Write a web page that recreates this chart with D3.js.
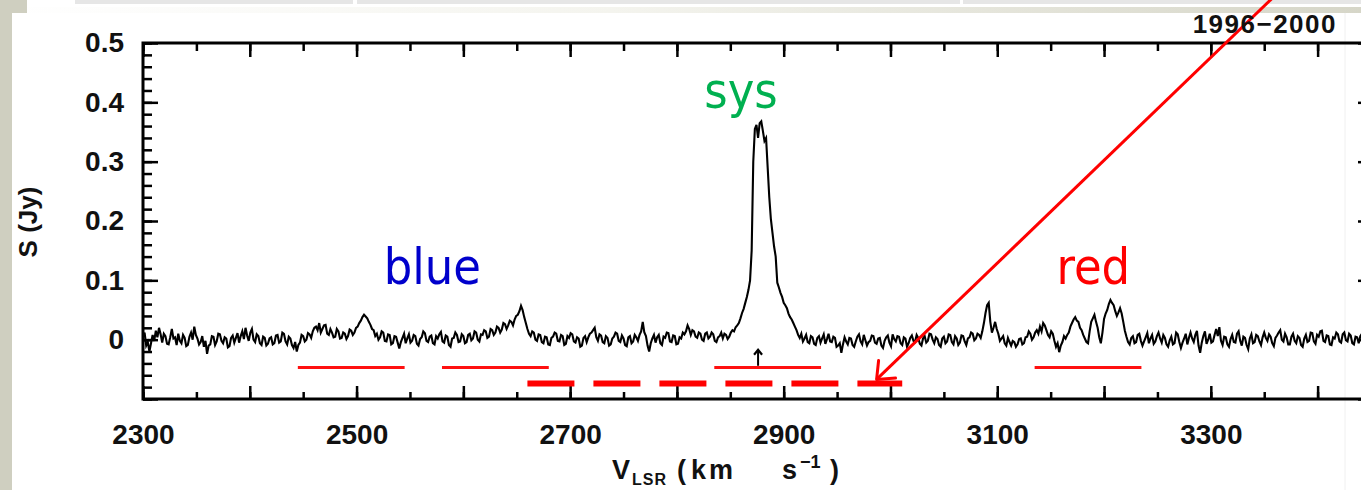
<!DOCTYPE html>
<html>
<head>
<meta charset="utf-8">
<script src="https://cdn.jsdelivr.net/npm/d3@7"></script>
<style>
body { margin: 0; background: #fff; overflow: hidden; }
svg text { font-family: "Liberation Sans", Arial, sans-serif; }
.pp { font-family: Tahoma, "DejaVu Sans Condensed", "DejaVu Sans", sans-serif; font-stretch: condensed; }
</style>
</head>
<body>
<div id="chart"></div>
<script>
// spectrum channels: first channel 2300 km/s, 1.5 km/s per channel, flux in mJy
const v0 = 2300, dv = 1.5;
const flux = [
  5, 12, -10, -4, -20, -6, 8, -2, 15, 4, 20, 9, -5, 10, 6, -7, -8, 4, 18, 2, 4, -9, 10, -2, -6, 8, 3, -11, -9, 5, 12, 0, 22, 8, 2, -8, -4, 6, -12, -2,
  -24, -10, -8, 6, 5, -9, -3, 10, 9, -2, -6, 4, 2, -13, -11, 3, 7, -5, 3, 11, -5, 6, 14, 1, 20, 7, -2, 12, 18, 0, -4, 9, 6, -6, -9, 5, 3, -10, -7, 2,
  4, -8, -6, 7, 8, -5, -3, 12, 10, -3, -8, 5, 2, -9, -14, -4, -20, -9, -5, 8, 6, -3, 0, 11, 9, 3, 14, 20, 22, 16, 28, 12, 18, 24, 25, 10, 8, 18, 12, 4,
  5, 18, 14, 2, 3, 12, 10, 1, 6, 17, 15, 8, 12, 20, 22, 28, 32, 38, 42, 39, 36, 30, 25, 18, 16, 6, 10, 0, 4, 14, 12, -2, -3, 9, 8, -8, -6, 6, 5, -5,
  -15, -4, 3, 10, -6, 2, 9, -5, -2, 8, 6, -7, -10, 1, 4, 14, 11, -2, -4, 5, 7, -6, -8, 6, 2, 9, 13, -3, -5, 7, 5, -9, -12, 2, 3, 12, 8, -4, -3, 9,
  6, -6, -4, 8, 10, -1, 2, 14, 12, 0, -3, 9, 8, 16, 14, 3, 5, 18, 16, 8, 12, 22, 20, 12, 17, 28, 26, 18, 24, 32, 30, 24, 34, 40, 42, 48, 57, 50, 38, 28,
  18, 10, 6, 14, 12, 0, -2, 9, 8, -4, -6, 5, 4, -8, -9, 3, 5, 12, 10, -2, -3, 8, 6, -9, -7, 6, 3, 11, 9, -3, -5, 4, 2, -12, -10, 3, 6, -4, 4, 10,
  12, 16, 20, 4, -2, 9, 7, -4, -6, 6, 3, -10, -8, 2, 5, 12, 10, -2, -4, 7, 2, -9, -11, 4, 6, -6, -3, 8, 4, -2, 8, 14, 30, 12, 6, -10, -20, -6, 2, 8,
  -5, 4, 8, -6, -9, 5, 3, 12, 11, -3, -4, 7, 6, -8, -7, 4, 2, 12, 9, 14, 24, 18, 8, 16, 14, 5, 3, 12, 10, 0, -2, 10, 12, 2, 5, 12, 9, -2, -4, 4,
  6, 12, 2, 10, 8, 1, 5, 12, 16, 14, 21, 24, 28, 36, 45, 52, 62, 72, 84, 100, 150, 300, 355, 362, 340, 365, 368, 352, 335, 340, 290, 240, 203, 180, 157, 140, 96, 88, 79, 72,
  62, 58, 53, 44, 38, 34, 28, 22, 16, 8, 3, 10, -3, 2, 8, -4, -6, 6, 4, -7, -9, 3, 6, -5, 2, 9, -7, 1, 10, -3, -4, 5, 3, -12, -10, -6, -22, -8, 4, -3,
  -8, 3, 2, -9, -12, -3, 5, 9, -3, -8, 8, -1, -10, -4, -2, 7, 6, -5, -7, 2, 3, -10, -14, -2, 4, 7, -5, -11, 9, 1, -3, 6, 5, -6, -9, 4, 2, -12, -6, 3,
  7, -2, -4, 8, 3, -7, -10, 2, 6, -5, -2, 10, 9, 0, -6, 4, 1, -9, -12, 2, 5, -6, -3, 9, 8, -4, -8, 6, 2, -9, -5, 7, 6, -3, -9, 2, 4, 12, 10, -1,
  2, 10, 8, 3, 14, 28, 45, 58, 62, 30, 12, 20, 30, 18, 10, -2, 2, 6, -6, -10, 3, -4, -10, -2, -4, -12, -8, 1, 2, -8, -6, 4, 5, 14, 10, 0, 4, 12, 16, 10,
  22, 14, 28, 24, 16, 8, 4, 14, 10, -2, -12, -6, -21, -10, -4, 6, 2, 8, 12, 22, 28, 34, 38, 32, 30, 20, 16, 8, 2, -4, -6, 14, 30, 36, 42, 30, 20, 4, -6, 12,
  35, 44, 50, 60, 67, 62, 58, 48, 40, 46, 53, 44, 30, 15, 5, -4, -8, 3, 6, -6, -4, 8, 10, -2, -10, -3, 4, 11, -6, 2, 8, -7, -3, 6, 12, 2, -5, 8, 3, -8,
  -12, -1, 5, -8, -6, 12, 9, -4, -14, -5, 2, 10, -8, 3, 12, 2, -4, 8, 15, -10, -22, -5, 6, 14, -7, 0, 10, -5, -3, 8, 18, 6, 21, -2, -9, 5, 4, -8, -12, 1,
  8, -4, -5, 10, 14, -2, -10, 5, 3, -9, -16, 2, 9, -6, -4, 8, 6, -3, -9, 4, 12, 3, -2, 9, 5, -6, -11, 3, 7, 12, 16, 0, -3, 10, 4, -8, -8, 5, 10, -2,
  -6, 6, 3, -9, -12, 2, 8, -4, -2, 12, 11, -3, -7, 8, 5, 14, 15, -2, -4, 7, 6, -8, -9, 4, 2, 12, 9, -3, -5, 9, 12, -1, -3, 10, 7, -6, -8, 5, 4, -6,
  6, 10, -4, 3, 8
];

const xLabels = [2300, 2500, 2700, 2900, 3100, 3300];
const yLabels = [0, 0.1, 0.2, 0.3, 0.4, 0.5];

// velocity ranges (km/s) marked with red bars under the spectrum
const ranges = [[2445, 2545], [2580, 2680], [2835, 2935], [3135, 3235]];
const rangeLevel = -0.047;
const dashSpan = [2660, 3011];
const dashLevel = -0.074;
// red arrow, tail -> tip, in (km/s, Jy)
const arrowTail = [3374, 0.604], arrowTip = [2987, -0.067];
// systemic velocity marker
const sysV = 2876, sysFrom = -0.044, sysTo = -0.017;

const notes = [
  {text: "blue", v: 2571, s: 0.094, color: "#0000cc"},
  {text: "sys",  v: 2860, s: 0.391, color: "#00b050"},
  {text: "red",  v: 3190, s: 0.094, color: "#ff0000"}
];

const W = 1361, H = 490;
const svg = d3.select("#chart").append("svg")
    .attr("width", W).attr("height", H);

// slide background bits
const defs = svg.append("defs");
const grad = defs.append("linearGradient").attr("id", "band");
grad.append("stop").attr("offset", "0%").attr("stop-color", "#ffffff");
grad.append("stop").attr("offset", "45%").attr("stop-color", "#f4f4ee");
grad.append("stop").attr("offset", "100%").attr("stop-color", "#d6d6c8");
svg.append("rect").attr("x", 0).attr("y", 7).attr("width", W).attr("height", 6).attr("fill", "url(#band)");
svg.append("rect").attr("x", 75).attr("y", 0).attr("width", 278).attr("height", 4).attr("fill", "#e6e6e6");
svg.append("rect").attr("x", 357).attr("y", 0).attr("width", 603).attr("height", 4).attr("fill", "#e6e6e6");
svg.append("rect").attr("x", 963).attr("y", 0).attr("width", 398).attr("height", 4).attr("fill", "#e6e6e6");
svg.append("rect").attr("x", 0).attr("y", 0).attr("width", 27).attr("height", 13).attr("fill", "#cfcfc0");
svg.append("rect").attr("x", 0).attr("y", 0).attr("width", 12).attr("height", H).attr("fill", "#cfcfc0");
svg.append("line").attr("x1", 1345).attr("x2", 1345).attr("y1", 13).attr("y2", H)
    .attr("stroke", "#f0f0f0").attr("stroke-width", 1);

const x = d3.scaleLinear().domain([2300, 3450]).range([143, 1371]);
const y = d3.scaleLinear().domain([-0.1, 0.5]).range([399, 43]);

function styleAxis(g) {
  g.select(".domain").remove();
  g.selectAll(".tick line").attr("stroke", "#000").attr("stroke-width", 2.5);
  g.selectAll(".tick text").attr("font-size", 28).attr("font-weight", "bold").attr("fill", "#111");
}

const xMinor = d3.range(2300, 3451, 50);
const xMajor = d3.range(2300, 3451, 100);
const yMinor = d3.range(-0.1, 0.501, 0.02);
const yMajor = d3.range(-0.1, 0.501, 0.1);

// bottom
svg.append("g").attr("transform", `translate(0,${y(-0.1)})`)
  .call(d3.axisBottom(x).tickValues(xMinor).tickSize(-7).tickSizeOuter(0).tickFormat(""))
  .call(styleAxis);
svg.append("g").attr("transform", `translate(0,${y(-0.1)})`)
  .call(d3.axisBottom(x).tickValues(xMajor).tickSize(-13).tickSizeOuter(0).tickPadding(25)
    .tickFormat(d => xLabels.includes(Math.round(d)) ? d : ""))
  .call(styleAxis);
// top
svg.append("g").attr("transform", `translate(0,${y(0.5)})`)
  .call(d3.axisTop(x).tickValues(xMinor).tickSize(-8).tickSizeOuter(0).tickFormat(""))
  .call(styleAxis);
svg.append("g").attr("transform", `translate(0,${y(0.5)})`)
  .call(d3.axisTop(x).tickValues(xMajor).tickSize(-14).tickSizeOuter(0).tickFormat(""))
  .call(styleAxis);
// left
svg.append("g").attr("transform", `translate(${x(2300)},0)`)
  .call(d3.axisLeft(y).tickValues(yMinor).tickSize(-9).tickSizeOuter(0).tickFormat(""))
  .call(styleAxis);
svg.append("g").attr("transform", `translate(${x(2300)},0)`)
  .call(d3.axisLeft(y).tickValues(yMajor).tickSize(-15).tickSizeOuter(0).tickPadding(19)
    .tickFormat(d => {
      const l = yLabels.find(t => Math.abs(t - d) < 1e-6);
      return l === undefined ? "" : (l === 0 ? "0" : l.toFixed(1));
    }))
  .call(styleAxis);
// right
svg.append("g").attr("transform", `translate(${x(3450)},0)`)
  .call(d3.axisRight(y).tickValues(yMinor).tickSize(-8).tickSizeOuter(0).tickFormat(""))
  .call(styleAxis);
svg.append("g").attr("transform", `translate(${x(3450)},0)`)
  .call(d3.axisRight(y).tickValues(yMajor).tickSize(-13).tickSizeOuter(0).tickFormat(""))
  .call(styleAxis);

// frame
svg.append("rect")
  .attr("x", x(2300)).attr("y", y(0.5))
  .attr("width", x(3450) - x(2300)).attr("height", y(-0.1) - y(0.5))
  .attr("fill", "none").attr("stroke", "#000").attr("stroke-width", 3);

// spectrum
const line = d3.line()
  .x((d, i) => x(v0 + i * dv))
  .y(d => y(d / 1000));
svg.append("path").datum(flux)
  .attr("d", line)
  .attr("fill", "none").attr("stroke", "#000").attr("stroke-width", 2.1)
  .attr("stroke-linejoin", "miter");

// red bars
svg.selectAll(".range").data(ranges).enter().append("line")
  .attr("class", "range")
  .attr("x1", d => x(d[0])).attr("x2", d => x(d[1]))
  .attr("y1", y(rangeLevel)).attr("y2", y(rangeLevel))
  .attr("stroke", "#ff1010").attr("stroke-width", 3);

svg.append("line")
  .attr("x1", x(dashSpan[0])).attr("x2", x(dashSpan[1]))
  .attr("y1", y(dashLevel)).attr("y2", y(dashLevel))
  .attr("stroke", "#ff0000").attr("stroke-width", 6)
  .attr("stroke-dasharray", "47 19");

// sys marker arrow
const sx = x(sysV), sy1 = y(sysFrom), sy2 = y(sysTo);
svg.append("line").attr("x1", sx).attr("x2", sx).attr("y1", sy1).attr("y2", sy2 + 1)
  .attr("stroke", "#000").attr("stroke-width", 2);
svg.append("path")
  .attr("d", `M${sx - 4},${sy2 + 5} L${sx},${sy2} L${sx + 4},${sy2 + 5}`)
  .attr("fill", "none").attr("stroke", "#000").attr("stroke-width", 2.2);

// red annotation arrow
const tx = x(arrowTip[0]), ty = y(arrowTip[1]);
const fx = x(arrowTail[0]), fy = y(arrowTail[1]);
svg.append("line").attr("x1", fx).attr("y1", fy).attr("x2", tx).attr("y2", ty)
  .attr("stroke", "#ff0000").attr("stroke-width", 3);
const ang = Math.atan2(fy - ty, fx - tx);
const arm = 19, spread = 40 * Math.PI / 180;
svg.append("path")
  .attr("d", `M${tx + arm * Math.cos(ang - spread)},${ty + arm * Math.sin(ang - spread)} L${tx},${ty} L${tx + arm * Math.cos(ang + spread)},${ty + arm * Math.sin(ang + spread)}`)
  .attr("fill", "none").attr("stroke", "#ff0000").attr("stroke-width", 3)
  .attr("stroke-linecap", "round").attr("stroke-linejoin", "round");

// region names
svg.selectAll(".note").data(notes).enter().append("text")
  .attr("class", "note pp")
  .attr("x", d => x(d.v)).attr("y", d => y(d.s))
  .attr("text-anchor", "middle")
  .attr("font-size", 50)
  .attr("fill", d => d.color)
  .text(d => d.text);

// epoch label
svg.append("text")
  .attr("x", 1337).attr("y", 33)
  .attr("text-anchor", "end")
  .attr("font-size", 26).attr("font-weight", "bold")
  .attr("letter-spacing", 1.5)
  .attr("fill", "#111")
  .text("1996\u22122000");

// axis titles
svg.append("text")
  .attr("transform", "translate(37,222) rotate(-90)")
  .attr("text-anchor", "middle")
  .attr("font-size", 26).attr("font-weight", "bold")
  .attr("fill", "#111")
  .text("S (Jy)");

// x title, pieces spaced like the wide plot font of the original
const xt = svg.append("text")
  .attr("y", 479)
  .attr("font-size", 27).attr("font-weight", "bold")
  .attr("fill", "#111");
xt.append("tspan").attr("x", 612).text("V");
xt.append("tspan").attr("x", 632).attr("font-size", 16).attr("dy", 6).attr("letter-spacing", 1).text("LSR");
xt.append("tspan").attr("x", 677).attr("dy", -6).text("(");
xt.append("tspan").attr("x", 691).attr("letter-spacing", 3).text("km");
xt.append("tspan").attr("x", 782).text("s");
xt.append("tspan").attr("x", 800).attr("font-size", 18).attr("dy", -11).text("\u22121");
xt.append("tspan").attr("x", 830).attr("dy", 11).text(")");
</script>
</body>
</html>
